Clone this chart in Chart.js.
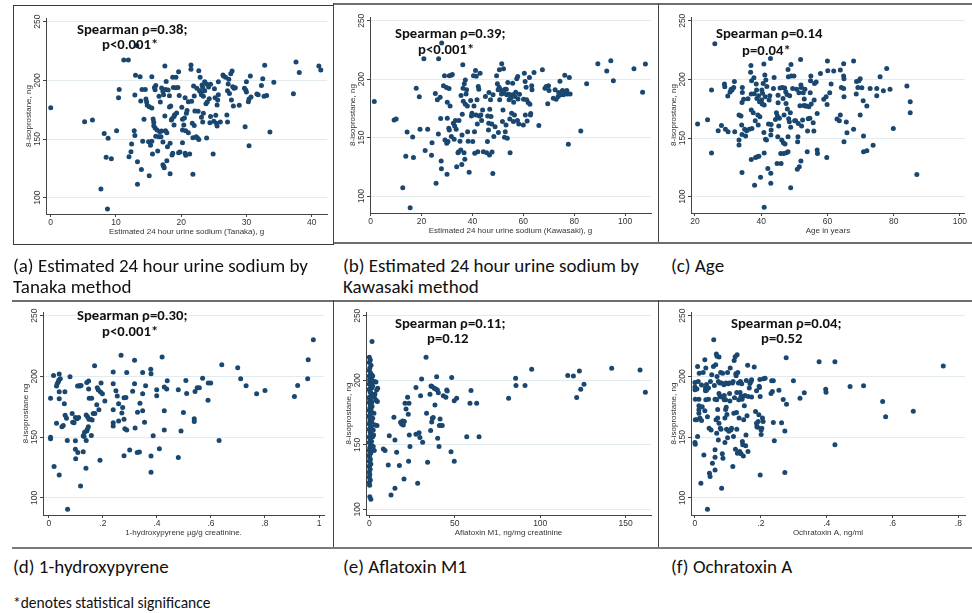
<!DOCTYPE html>
<html lang="en">
<head>
<meta charset="UTF-8">
<title>8-isoprostane scatter plots</title>
<script src="https://cdn.jsdelivr.net/npm/chart.js"></script>
<style>
  body { margin: 0; background: #fff; }
  #page { position: relative; width: 972px; height: 613px; overflow: hidden; background: #fff; }
  .line { position: absolute; background: #6e6e6e; }
  .box { position: absolute; border: 1px solid #3a3a3a; box-sizing: border-box; }
  .cap { position: absolute; font-family: Carlito, "Liberation Sans Narrow", "DejaVu Sans Condensed", sans-serif; font-size: 19px; line-height: 21px; color: #111; white-space: nowrap; }
  .foot { position: absolute; font-family: Carlito, "Liberation Sans Narrow", "DejaVu Sans Condensed", sans-serif; font-size: 15.5px; line-height: 18px; color: #111; white-space: nowrap; }
  .note { position: absolute; z-index: 2; font-family: Carlito, "Liberation Sans Narrow", "DejaVu Sans Condensed", sans-serif; font-weight: bold; font-size: 14.7px; line-height: 16px; color: #111; white-space: nowrap; }
  canvas { position: absolute; }
</style>
</head>
<body>
<div id="page">
  <!-- table lines -->
  <div class="line" style="left:333px;top:3px;width:639px;height:2px"></div>
  <div class="box" style="left:13px;top:5px;width:321px;height:240px"></div>
  <div class="line" style="left:333px;top:3px;width:1px;height:240px;background:#444"></div>
  <div class="line" style="left:658px;top:3px;width:1px;height:240px;background:#444"></div>
  <div class="line" style="left:334px;top:242px;width:638px;height:2px"></div>
  <div class="line" style="left:12px;top:300px;width:960px;height:2px"></div>
  <div class="line" style="left:333px;top:300px;width:1px;height:248px;background:#444"></div>
  <div class="line" style="left:658px;top:300px;width:1px;height:248px;background:#444"></div>
  <div class="line" style="left:12px;top:547px;width:960px;height:2px;background:#7a7a7a"></div>

  <!-- captions -->
  <div class="cap" style="left:13px;top:255px">(a) Estimated 24 hour urine sodium by<br>Tanaka method</div>
  <div class="cap" style="left:343px;top:255px">(b) Estimated 24 hour urine sodium by<br>Kawasaki method</div>
  <div class="cap" style="left:671px;top:255px">(c) Age</div>
  <div class="cap" style="left:13px;top:556px">(d) 1-hydroxypyrene</div>
  <div class="cap" style="left:343px;top:556px">(e) Aflatoxin M1</div>
  <div class="cap" style="left:671px;top:556px">(f) Ochratoxin A</div>
  <div class="foot" style="left:13px;top:594px">*denotes statistical significance</div>

  <!-- spearman notes -->
  <div class="note" style="left:77px;top:21px">Spearman ρ=0.38;</div>
  <div class="note" style="left:102px;top:36px">p&lt;0.001*</div>
  <div class="note" style="left:395px;top:25px">Spearman ρ=0.39;</div>
  <div class="note" style="left:418px;top:41px">p&lt;0.001*</div>
  <div class="note" style="left:716px;top:25px">Spearman ρ=0.14</div>
  <div class="note" style="left:742px;top:42px">p=0.04*</div>
  <div class="note" style="left:77px;top:307px">Spearman ρ=0.30;</div>
  <div class="note" style="left:102px;top:323px">p&lt;0.001*</div>
  <div class="note" style="left:395px;top:315px">Spearman ρ=0.11;</div>
  <div class="note" style="left:427px;top:330px">p=0.12</div>
  <div class="note" style="left:731px;top:315px">Spearman ρ=0.04;</div>
  <div class="note" style="left:761px;top:330px">p=0.52</div>
</div>

<script>
// y axis is the same for every panel
const yTicks = [100, 150, 200, 250];

// (a) Tanaka sodium, g  vs 8-isoprostane
const tanakaTicks = [0, 10, 20, 30, 40];
const tanakaPts = [
  [0,176.7],[5.2,164.8],[6.4,166.2],[7.7,107.4],[8.2,154.8],[8.5,134.4],[8.7,90.3],[8.8,150.6],[9.3,133.2],[10.1,157.1],
  [10.4,185.2],[10.5,192.3],[11.2,217.3],[11.9,217.3],[12.0,134.9],[12.3,139.2],[12.4,145.7],[12.8,157.1],[12.9,153.1],[12.9,187.5],
  [13.0,204.3],[13.2,229.8],[13.3,130.7],[13.3,111.4],[13.7,203.1],[13.8,182.4],[13.9,124.1],[14.0,192.3],[14.1,148.0],[14.3,166.8],
  [14.5,192.3],[14.6,184.1],[14.7,181.5],[14.8,178.7],[15.0,147.7],[15.1,177.6],[15.1,118.8],[15.3,144.6],[15.5,203.1],[15.5,176.4],
  [15.5,148.0],[15.6,137.2],[15.7,167.0],[15.8,164.2],[15.8,161.4],[15.9,194.0],[16.0,192.0],[16.0,159.4],[16.1,195.7],[16.1,152.3],
  [16.3,157.7],[16.4,139.8],[16.6,152.0],[16.6,186.4],[16.7,156.3],[16.8,181.5],[16.9,152.0],[17.0,193.5],[17.0,156.8],[17.2,190.6],
  [17.2,147.4],[17.2,128.1],[17.3,187.8],[17.3,126.7],[17.4,125.6],[17.5,212.2],[17.5,169.6],[17.6,157.1],[17.6,192.3],[17.7,199.1],
  [17.8,155.4],[17.8,131.5],[17.9,143.5],[18.0,191.8],[18.2,186.9],[18.2,177.3],[18.3,146.3],[18.3,120.5],[18.4,178.1],[18.5,166.2],
  [18.6,136.4],[18.6,167.3],[18.7,137.8],[18.7,202.6],[18.8,194.0],[18.9,161.9],[18.9,169.3],[19.0,170.7],[19.2,193.8],[19.2,202.6],
  [19.3,172.2],[19.5,194.0],[19.6,207.4],[19.6,138.4],[19.7,187.2],[19.8,138.9],[20.1,177.0],[20.2,166.8],[20.2,157.7],[20.2,146.9],
  [20.4,161.9],[20.5,167.9],[20.6,137.8],[20.6,185.2],[20.7,157.1],[20.7,136.1],[20.8,171.9],[20.9,174.4],[21.1,181.8],[21.1,155.4],
  [21.3,137.2],[21.5,213.1],[21.5,209.4],[21.6,182.1],[21.7,163.4],[21.8,119.9],[21.8,151.1],[21.9,195.2],[22.0,161.6],[22.0,186.6],
  [22.1,173.9],[22.3,152.0],[22.4,193.2],[22.5,150.9],[22.6,173.6],[22.7,149.7],[22.7,208.2],[22.8,191.2],[22.9,202.6],[23.0,189.8],
  [23.1,168.5],[23.1,187.8],[23.2,196.0],[23.3,194.0],[23.3,164.5],[23.4,171.9],[23.4,186.4],[23.6,198.9],[23.6,191.2],[23.8,180.1],
  [23.9,150.9],[23.9,196.9],[24.0,181.5],[24.2,194.3],[24.3,184.4],[24.4,163.9],[24.5,169.3],[24.5,196.6],[24.9,137.2],[25.0,165.1],
  [25.1,192.9],[25.2,185.2],[25.3,170.2],[25.4,163.4],[25.5,161.1],[25.5,179.0],[25.6,183.2],[25.7,198.9],[25.7,187.8],[26.0,164.5],
  [26.4,204.5],[26.5,203.7],[26.8,202.6],[27.0,170.5],[27.1,164.5],[27.1,191.2],[27.2,196.9],[27.3,200.9],[27.4,188.9],[27.6,205.7],
  [27.7,183.2],[27.8,208.0],[27.9,194.6],[28.0,178.1],[28.1,193.2],[28.3,193.8],[28.9,178.7],[29.7,193.2],[29.8,160.5],[29.9,191.8],
  [30.0,198.9],[30.0,190.1],[30.3,181.8],[30.4,144.3],[30.4,184.1],[30.6,203.7],[30.7,185.8],[31.6,188.4],[31.8,187.8],[32.3,195.7],
  [32.5,201.4],[32.7,186.4],[32.8,212.8],[33.1,187.2],[33.6,156.0],[34.2,198.3],[37.2,188.6],[37.6,215.6],[38.1,206.8],[41.1,212.2],
  [41.4,208.8]
];

// (b) Kawasaki sodium, g
const kawasakiTicks = [0, 20, 40, 60, 80, 100];
const kawasakiPts = [
  [1.4,180.9],[9.2,165.1],[10.0,166.0],[12.6,107.1],[13.8,134.0],[14.3,154.9],[15.5,90.0],[16.5,150.6],[16.8,132.9],[17.9,192.3],
  [19.1,184.9],[19.4,157.1],[20.9,217.4],[21.4,138.9],[22.4,157.1],[23.9,134.9],[24.1,145.7],[25.4,187.7],[25.7,110.9],[26.2,182.3],
  [26.6,153.1],[26.7,217.4],[27.3,184.6],[27.5,166.3],[27.7,130.0],[27.8,123.4],[27.9,230.9],[28.6,194.3],[29.0,202.9],[29.2,148.0],
  [29.8,192.9],[29.9,145.1],[30.0,118.6],[30.1,180.3],[30.1,166.6],[30.4,146.6],[30.7,158.0],[30.8,192.0],[30.9,202.9],[30.9,156.6],
  [31.2,177.1],[31.6,203.4],[31.7,150.9],[32.1,204.0],[32.5,162.3],[32.8,148.6],[33.0,160.0],[33.3,164.6],[33.6,157.1],[33.8,125.1],
  [34.3,137.1],[34.6,138.0],[34.7,164.6],[35.1,146.9],[35.4,139.4],[35.5,186.0],[35.8,127.1],[35.9,152.3],[36.0,170.0],[36.2,212.3],
  [36.3,192.3],[36.4,181.1],[36.7,137.1],[36.8,196.0],[37.0,131.4],[37.2,178.6],[37.2,199.4],[37.5,187.4],[37.7,190.9],[38.0,177.1],
  [38.1,155.1],[38.3,146.9],[38.7,120.3],[39.3,181.7],[39.6,168.6],[39.8,170.9],[40.1,146.6],[40.4,202.9],[40.6,177.1],[40.8,155.1],
  [40.9,136.6],[41.2,207.4],[41.4,169.4],[41.5,202.6],[41.8,182.3],[41.9,161.7],[42.1,138.0],[42.3,193.7],[42.5,191.4],[42.7,168.6],
  [43.0,205.1],[43.3,169.4],[43.6,164.6],[44.0,173.7],[44.3,138.0],[45.1,185.1],[45.6,137.1],[45.9,146.6],[46.0,168.6],[46.3,156.6],
  [46.4,162.3],[46.5,188.6],[46.7,135.1],[46.8,174.3],[47.1,182.3],[47.3,168.0],[47.6,161.7],[47.7,137.7],[48.0,119.4],[48.1,186.6],
  [48.4,150.9],[48.9,159.4],[49.5,202.9],[49.8,196.0],[50.1,190.9],[50.2,154.3],[50.5,193.1],[50.6,208.0],[50.7,182.3],[51.1,190.9],
  [51.4,187.4],[51.5,213.1],[51.8,163.7],[52.0,173.7],[52.2,208.9],[52.3,188.0],[52.6,150.3],[52.8,191.4],[52.9,155.1],[53.2,160.9],
  [53.3,191.4],[53.5,186.6],[53.7,149.4],[53.9,197.1],[54.3,187.1],[54.4,182.3],[54.7,166.0],[54.8,137.1],[55.0,183.7],[55.4,170.9],
  [55.7,186.6],[55.8,196.6],[56.1,163.7],[56.2,180.3],[56.5,169.4],[56.7,185.1],[57.0,188.9],[57.4,200.3],[57.7,164.6],[57.8,202.3],
  [57.9,183.1],[58.2,161.7],[58.5,187.1],[60.0,160.9],[60.1,182.9],[60.4,205.1],[60.7,198.0],[60.8,169.4],[61.1,193.1],[61.3,182.3],
  [61.5,164.3],[61.9,180.0],[62.4,201.4],[62.6,178.6],[62.8,169.4],[62.9,170.6],[63.3,194.3],[63.4,190.9],[64.2,205.7],[66.1,160.3],
  [67.5,208.0],[68.5,192.3],[69.0,193.7],[69.9,194.3],[69.6,178.9],[70.1,190.3],[71.8,183.7],[72.5,190.9],[72.9,182.9],[73.7,185.1],
  [73.9,188.6],[74.4,198.3],[74.7,186.6],[75.4,190.3],[75.8,186.6],[76.3,203.4],[76.6,189.4],[77.1,190.3],[77.3,187.4],[77.7,144.3],
  [78.1,201.4],[78.4,187.4],[82.6,155.7],[84.9,196.0],[89.3,213.1],[92.8,207.1],[94.4,215.7],[95.4,198.6],[103.5,208.9],[106.9,188.9],
  [108.0,212.9]
];

// (c) age in years
const ageTicks = [20, 40, 60, 80, 100];
const agePts = [
  [20.8,161.9],[23.8,165.6],[25.0,137.2],[25.0,190.9],[26.0,230.4],[27.0,156.3],[28.0,160.8],[28.9,196.0],[29.0,193.8],[29.2,157.4],
  [29.9,185.8],[30.0,155.4],[30.6,189.2],[30.9,191.5],[31.2,190.9],[31.7,193.2],[31.9,198.3],[32.0,155.4],[33.3,169.6],[33.3,144.0],
  [33.3,148.3],[33.9,168.8],[34.1,161.1],[34.2,180.4],[34.2,153.1],[34.2,120.7],[34.3,193.2],[34.3,188.9],[34.7,183.0],[35.0,157.4],
  [35.3,151.7],[35.6,156.3],[36.0,183.5],[36.4,157.4],[36.8,206.0],[36.9,211.9],[37.0,173.9],[37.0,187.5],[37.1,198.9],[37.0,131.8],
  [37.2,158.2],[37.6,171.6],[37.8,201.4],[37.9,187.8],[38.0,109.7],[38.2,164.8],[38.3,133.5],[38.5,196.0],[38.6,190.9],[38.7,183.8],
  [38.8,134.1],[39.0,169.6],[39.1,161.1],[39.2,186.1],[39.3,134.4],[39.5,180.9],[39.6,168.2],[39.8,116.5],[40.1,182.4],[40.2,190.9],
  [40.3,179.0],[40.4,188.1],[40.6,196.6],[40.8,213.1],[40.8,154.8],[40.9,178.1],[40.9,137.2],[40.9,90.9],[41.1,203.7],[41.2,185.2],
  [41.3,148.9],[41.4,199.4],[41.6,148.3],[41.7,194.0],[42.0,124.1],[42.2,161.9],[42.4,182.4],[42.6,186.1],[42.8,217.9],[42.9,119.9],
  [42.9,111.4],[42.9,152.6],[43.0,161.6],[43.0,156.8],[43.7,192.3],[43.9,201.7],[44.3,165.9],[44.6,171.6],[44.8,128.4],[44.9,168.8],
  [45.0,151.1],[45.1,186.4],[45.1,180.1],[45.3,160.2],[45.5,166.8],[45.7,192.6],[45.9,136.9],[46.0,128.4],[46.2,148.3],[46.4,193.2],
  [46.6,183.8],[46.7,146.0],[46.8,136.9],[46.9,169.6],[47.1,192.6],[47.2,144.9],[47.4,189.5],[47.5,179.5],[47.6,137.5],[47.8,187.2],
  [47.9,174.7],[48.1,151.1],[48.1,138.4],[48.1,208.5],[48.2,202.3],[48.3,166.5],[48.5,163.9],[48.6,186.1],[48.8,171.6],[48.9,159.1],
  [48.9,107.7],[49.0,212.8],[49.1,202.8],[49.5,192.3],[49.9,202.8],[50.1,164.8],[50.4,164.8],[50.7,191.5],[50.9,123.3],[51.0,146.9],
  [51.1,151.1],[51.2,162.5],[51.4,188.6],[51.5,125.6],[51.7,177.6],[51.9,217.0],[52.0,195.2],[52.0,130.4],[52.1,193.2],[52.2,160.2],
  [52.5,165.3],[52.7,188.6],[52.9,177.8],[53.0,183.2],[53.2,191.5],[53.3,177.3],[53.7,177.3],[53.9,138.4],[54.0,156.0],[54.2,166.5],
  [54.4,176.7],[54.7,166.8],[54.8,188.6],[54.9,198.9],[55.0,202.8],[55.1,179.0],[55.7,163.1],[55.9,156.0],[56.0,182.4],[56.1,196.6],
  [56.6,197.7],[56.9,171.0],[56.9,139.8],[57.0,136.9],[57.9,205.1],[58.9,183.0],[59.6,185.2],[59.8,133.5],[59.9,178.7],[60.0,215.6],
  [60.1,207.4],[60.7,188.6],[61.1,196.0],[61.9,207.1],[62.9,166.2],[63.6,164.8],[63.9,169.6],[63.9,208.0],[64.2,193.2],[64.9,213.4],
  [64.9,202.8],[65.0,200.6],[64.9,192.3],[65.0,185.2],[65.0,146.9],[65.7,163.6],[65.9,154.5],[67.9,215.6],[67.9,157.4],[68.7,187.5],
  [68.8,198.3],[69.2,193.2],[69.5,198.9],[69.9,169.6],[69.9,200.6],[70.4,192.9],[70.8,181.8],[70.9,151.7],[70.9,138.4],[71.9,139.2],
  [71.9,177.3],[72.9,192.3],[73.8,143.8],[74.9,186.1],[74.9,192.3],[75.9,202.3],[76.9,190.3],[77.9,209.4],[78.9,191.5],[79.9,158.2],
  [84.0,194.3],[85.0,181.0],[85.0,171.6],[87.0,119.0]
];

// (d) 1-hydroxypyrene, ug/g creatinine
const pyreneTicks = [0, 0.2, 0.4, 0.6, 0.8, 1];
const pyreneLabels = ['0', '.2', '.4', '.6', '.8', '1'];
const pyrenePts = [
  [0.006,182.1],[0.006,150.0],[0.006,148.8],[0.017,200.8],[0.019,125.8],[0.028,161.5],[0.028,192.1],[0.031,194.2],[0.035,195.6],[0.037,197.0],
  [0.038,201.9],[0.038,187.4],[0.038,181.6],[0.038,118.9],[0.042,198.1],[0.048,158.6],[0.053,159.7],[0.057,177.5],[0.059,187.4],[0.060,168.1],
  [0.065,165.5],[0.068,147.3],[0.069,90.7],[0.078,199.7],[0.086,169.5],[0.088,162.2],[0.093,161.9],[0.098,166.3],[0.098,147.0],[0.098,140.0],
  [0.099,132.3],[0.104,165.2],[0.106,192.1],[0.107,137.4],[0.110,166.3],[0.112,192.3],[0.115,192.1],[0.117,109.9],[0.119,192.6],[0.127,138.1],
  [0.127,151.1],[0.130,150.5],[0.132,154.0],[0.137,124.4],[0.138,147.3],[0.138,168.2],[0.140,195.1],[0.140,155.2],[0.142,156.6],[0.143,166.8],
  [0.146,158.6],[0.147,196.2],[0.147,189.6],[0.148,164.8],[0.149,182.1],[0.154,164.8],[0.157,151.4],[0.158,182.1],[0.160,164.1],[0.164,169.6],
  [0.169,208.8],[0.170,169.6],[0.177,176.6],[0.179,190.7],[0.183,188.8],[0.185,172.5],[0.189,131.0],[0.191,187.1],[0.193,194.5],[0.198,185.7],
  [0.207,179.7],[0.238,203.6],[0.238,194.0],[0.238,172.5],[0.238,161.9],[0.238,159.2],[0.248,188.2],[0.253,183.8],[0.258,177.5],[0.258,163.3],
  [0.267,217.5],[0.270,169.9],[0.273,174.5],[0.278,182.5],[0.278,164.8],[0.278,134.8],[0.281,157.0],[0.285,182.7],[0.288,203.3],[0.288,155.9],
  [0.299,139.5],[0.310,187.9],[0.317,213.4],[0.317,194.0],[0.319,157.5],[0.327,137.4],[0.328,170.6],[0.335,137.8],[0.337,178.0],[0.347,203.3],
  [0.347,185.7],[0.347,171.7],[0.354,162.2],[0.358,192.3],[0.377,206.0],[0.378,202.2],[0.378,134.5],[0.378,121.1],[0.386,151.1],[0.399,189.0],
  [0.399,184.1],[0.409,140.5],[0.419,215.9],[0.427,191.2],[0.427,171.7],[0.427,155.9],[0.436,189.6],[0.438,196.4],[0.479,189.0],[0.479,133.4],
  [0.489,155.1],[0.498,170.3],[0.507,196.7],[0.510,186.0],[0.538,165.1],[0.538,162.9],[0.541,187.6],[0.549,190.7],[0.557,190.7],[0.569,198.6],
  [0.589,180.5],[0.590,194.5],[0.599,194.5],[0.630,147.3],[0.640,209.6],[0.699,207.1],[0.710,198.1],[0.730,192.3],[0.769,185.7],[0.800,188.5],
  [0.909,183.5],[0.921,192.6],[0.958,198.1],[0.960,213.7],[0.979,230.2]
];

// (e) aflatoxin M1, ng/mg creatinine (many values at the detection floor)
const aflaTicks = [0, 50, 100, 150];
const aflaPts = [
  [0,217.8],[0.6,215.8],[0,213.7],[1.0,211.6],[0.3,209.6],[0,207.5],[0.8,205.4],[0,203.4],[1.2,201.3],[0.4,199.2],
  [0,197.2],[0.9,195.1],[0,193.0],[0.5,191.0],[1.3,188.9],[0,186.8],[0.7,184.8],[0,182.7],[1.1,180.6],[0.3,178.6],
  [0,176.5],[0.8,174.4],[0,172.4],[1.2,170.3],[0.4,168.2],[0,166.1],[0.9,164.1],[0,162.0],[0.5,159.9],[1.4,157.9],
  [0,155.8],[0.7,153.7],[0,151.7],[1.1,149.6],[0.3,147.5],[0,145.5],[0.8,143.4],[0,141.3],[0.4,139.3],[0,137.2],
  [0.9,135.1],[0,133.1],[0.5,131.0],[0,128.9],[0.3,126.9],[0,124.8],[0.6,122.7],[0,120.7],[0.2,118.6],[0.3,109.8],
  [0.9,107.8],[1.0,190.0],[0.2,185.5],[1.5,183.0],[0.6,181.0],[1.0,177.0],[0.2,171.0],[1.5,167.5],[0.6,163.0],[1.0,158.5],
  [0.2,156.5],[1.3,152.5],[0.5,148.5],[1.0,145.0],[0.2,142.5],[0.6,197.5],[1.4,194.0],[0.2,200.5],[1.0,187.5],[0.4,173.0],
  [0.7,160.5],[0.2,134.0],[0.6,138.5],[1.2,162.5],[0.4,192.0],[1.5,198.0],
  [2.0,203.4],[2.9,199.0],[3.9,198.7],[4.9,193.8],[4.3,192.5],[4.7,183.5],[4.5,164.9],[2.9,186.8],[2.0,195.6],[3.3,189.4],
  [2.3,161.5],[2.0,156.3],[3.3,165.4],[2.3,148.6],[2.9,145.5],[1.6,179.6],[2.0,170.5],[1.6,230.0],[3.9,184.8],[2.7,174.4],
  [1.4,204.1],[2.5,157.6],
  [8.2,146.8],[9.2,145.5],[11.1,134.4],[11.7,157.1],[12.7,111.1],[14.4,171.3],[15.0,153.7],[15.0,116.3],[16.0,144.2],[17.6,133.9],
  [18.3,167.4],[18.9,166.1],[19.5,168.5],[19.9,165.4],[20.3,123.5],[20.5,168.0],[20.9,182.2],[21.5,177.8],[22.4,186.8],[22.8,173.6],
  [23.0,137.2],[23.2,182.2],[23.4,157.6],[23.8,148.6],[27.3,194.3],[27.3,158.1],[28.3,120.2],[29.1,159.4],[29.6,155.6],[30.0,188.1],
  [30.6,201.0],[31.2,151.9],[33.2,217.8],[33.5,174.4],[34.1,136.4],[35.5,189.1],[35.9,161.0],[36.1,195.6],[36.5,167.7],[36.7,195.1],
  [36.9,170.5],[37.4,171.1],[38.0,193.8],[38.4,180.9],[38.8,193.3],[39.4,202.8],[39.8,192.5],[40.0,155.0],[40.4,190.4],[40.8,148.6],
  [41.0,164.9],[41.4,170.0],[41.9,164.9],[42.7,164.9],[43.3,188.1],[44.8,186.8],[45.3,192.5],[45.6,191.7],[47.8,144.7],[48.2,202.1],
  [49.7,137.2],[49.7,184.2],[51.1,186.0],[57.0,156.3],[58.9,182.2],[59.5,192.0],[62.8,182.2],[64.2,156.3],[81.5,186.0],[85.6,201.6],
  [85.8,195.9],[91.1,195.9],[95.0,208.5],[116.1,203.6],[119.4,203.4],[121.3,186.6],[122.9,207.2],[123.7,193.0],[125.6,196.9],[141.8,209.3],
  [158.4,208.0],[161.5,190.7]
];

// (f) ochratoxin A, ng/ml
const ochraTicks = [0, 0.2, 0.4, 0.6, 0.8];
const ochraLabels = ['0', '.2', '.4', '.6', '.8'];
const ochraPts = [
  [0,195.1],[0,191.2],[0,189.0],[0.001,181.3],[0.001,164.3],[0,145.6],[0.001,144.2],[0.006,189.6],[0.005,164.3],[0.008,150.5],
  [0.008,208.2],[0.010,195.9],[0.012,181.3],[0.012,175.8],[0.012,169.8],[0.012,172.5],[0.015,165.9],[0.013,202.7],[0.018,112.1],[0.020,192.9],
  [0.020,163.7],[0.022,175.0],[0.025,203.3],[0.027,135.4],[0.030,213.7],[0.030,171.7],[0.032,188.2],[0.032,190.4],[0.033,206.9],[0.033,180.8],
  [0.035,188.7],[0.035,193.4],[0.038,166.8],[0.038,90.7],[0.041,190.4],[0.041,181.3],[0.043,157.4],[0.044,120.3],[0.046,117.6],[0.047,195.9],
  [0.049,156.0],[0.051,201.4],[0.053,128.6],[0.056,208.2],[0.057,230.2],[0.059,192.6],[0.061,123.1],[0.061,181.3],[0.061,139.6],[0.061,133.5],
  [0.063,209.6],[0.064,164.3],[0.065,218.4],[0.066,153.3],[0.066,180.8],[0.067,216.5],[0.067,200.0],[0.069,165.9],[0.069,172.8],[0.071,147.8],
  [0.071,195.9],[0.073,186.0],[0.073,161.5],[0.073,215.9],[0.075,194.5],[0.076,183.5],[0.077,157.4],[0.078,203.3],[0.079,156.6],[0.081,108.0],
  [0.081,194.5],[0.081,183.0],[0.083,136.3],[0.084,202.7],[0.085,132.7],[0.086,183.5],[0.088,193.1],[0.089,184.3],[0.089,180.8],[0.091,145.6],
  [0.091,165.9],[0.093,172.8],[0.093,180.8],[0.094,194.5],[0.095,174.7],[0.096,156.6],[0.097,168.7],[0.099,149.5],[0.099,203.3],[0.101,193.9],
  [0.103,154.9],[0.104,194.5],[0.105,186.0],[0.106,179.7],[0.107,206.9],[0.109,156.0],[0.111,157.4],[0.114,194.5],[0.115,125.8],[0.116,195.9],
  [0.117,150.5],[0.118,169.8],[0.119,213.2],[0.120,182.4],[0.122,216.2],[0.123,140.1],[0.124,202.2],[0.125,200.5],[0.126,170.3],[0.127,186.8],
  [0.127,156.6],[0.128,217.9],[0.129,136.8],[0.130,203.3],[0.132,194.5],[0.133,180.8],[0.134,165.9],[0.136,138.2],[0.137,186.8],[0.138,195.9],
  [0.140,183.5],[0.140,136.3],[0.142,193.9],[0.143,181.3],[0.144,146.4],[0.145,143.7],[0.146,183.5],[0.147,134.6],[0.148,164.3],[0.150,175.8],
  [0.152,184.3],[0.154,142.9],[0.155,151.9],[0.156,196.7],[0.158,167.6],[0.160,209.1],[0.161,138.2],[0.162,183.5],[0.165,190.4],[0.167,194.2],
  [0.170,195.9],[0.172,197.3],[0.172,183.0],[0.180,207.7],[0.184,171.2],[0.187,188.2],[0.187,161.5],[0.188,158.8],[0.190,158.2],[0.192,162.9],
  [0.194,168.4],[0.195,192.0],[0.196,190.9],[0.197,197.5],[0.198,119.0],[0.198,183.5],[0.201,152.2],[0.201,156.0],[0.203,157.4],[0.205,165.9],
  [0.207,162.9],[0.208,198.1],[0.213,198.4],[0.231,186.0],[0.233,196.4],[0.235,187.5],[0.238,162.1],[0.238,196.4],[0.241,147.0],[0.255,188.7],
  [0.263,161.8],[0.268,181.0],[0.273,155.2],[0.273,121.0],[0.277,215.3],[0.278,177.2],[0.299,196.4],[0.319,182.0],[0.332,186.5],[0.377,212.0],
  [0.397,189.5],[0.398,187.0],[0.425,212.0],[0.425,143.7],[0.471,191.8],[0.512,192.3],[0.570,179.4],[0.579,166.8],[0.663,171.4],[0.754,208.5]
];

const DOT = '#1a476f';
const AX_FONT = '"Liberation Sans", Arial, sans-serif';
const Y_W = 24;   // room left of plot for y labels + title
const X_H = 24;   // room under plot for x labels + title
const PAD_T = 8;
const PAD_R = 2;

// panel layout: plot box in page px [left, top, right, bottom] + axis ranges
const panels = [
  { pts: tanakaPts, box: [46, 18, 327, 214], x: [-0.72, 42.35], y: [86.1, 253.15], xt: tanakaTicks, xl: tanakaTicks.map(String),
    xTitle: 'Estimated 24 hour urine sodium (Tanaka), g', yTitle: '8-isoprostane, ng' },
  { pts: kawasakiPts, box: [370, 17, 651, 213], x: [-0.28, 110.2], y: [85.5, 253.2], xt: kawasakiTicks, xl: kawasakiTicks.map(String),
    xTitle: 'Estimated 24 hour urine sodium (Kawasaki), g', yTitle: '8-isoprostane, ng' },
  { pts: agePts, box: [691, 17, 966, 213], x: [18.8, 101.5], y: [86.1, 253.2], xt: ageTicks, xl: ageTicks.map(String),
    xTitle: 'Age in years', yTitle: '8-isoprostane, ng' },
  { pts: pyrenePts, box: [43, 312, 324, 515], x: [-0.022, 1.0185], y: [86.0, 253.0], xt: pyreneTicks, xl: pyreneLabels,
    xTitle: '1-hydroxypyrene µg/g creatinine.', yTitle: '8-isoprostane ng' },
  { pts: aflaPts, box: [366, 312, 651, 515], x: [-1.93, 164.8], y: [95.6, 252.9], xt: aflaTicks, xl: aflaTicks.map(String),
    xTitle: 'Aflatoxin M1, ng/mg creatinine', yTitle: '8-isoprostane, ng' },
  { pts: ochraPts, box: [691, 312, 965, 515], x: [-0.012, 0.82], y: [86.0, 253.0], xt: ochraTicks, xl: ochraLabels,
    xTitle: 'Ochratoxin A, ng/ml', yTitle: '8-isoprostane, ng' }
];

// Stata style: y labels turned on their side
const sideYLabels = {
  id: 'sideYLabels',
  afterDraw(chart) {
    const s = chart.scales.y;
    const ctx = chart.ctx;
    ctx.save();
    ctx.font = '8.5px ' + AX_FONT;
    ctx.fillStyle = '#333';
    ctx.textAlign = 'center';
    ctx.textBaseline = 'middle';
    yTicks.forEach(v => {
      ctx.save();
      ctx.translate(s.right - 8, s.getPixelForValue(v));
      ctx.rotate(-Math.PI / 2);
      ctx.fillText(String(v), 0, 0);
      ctx.restore();
    });
    ctx.restore();
  }
};

const page = document.getElementById('page');

panels.forEach(p => {
  const [L, T, R, B] = p.box;
  const cv = document.createElement('canvas');
  cv.width = R - L + Y_W + PAD_R;
  cv.height = B - T + PAD_T + X_H;
  cv.style.left = (L - Y_W) + 'px';
  cv.style.top = (T - PAD_T) + 'px';
  page.insertBefore(cv, page.firstChild);

  new Chart(cv, {
    type: 'scatter',
    data: {
      datasets: [{
        data: p.pts.map(([x, y]) => ({ x, y })),
        pointBackgroundColor: DOT,
        backgroundColor: DOT,
        pointBorderWidth: 0,
        pointRadius: 2.5,
        pointHoverRadius: 2.5
      }]
    },
    options: {
      responsive: false,
      animation: false,
      events: [],
      layout: { autoPadding: false, padding: { left: 0, top: PAD_T, right: PAD_R, bottom: 0 } },
      plugins: { legend: { display: false }, tooltip: { enabled: false } },
      scales: {
        x: {
          type: 'linear', min: p.x[0], max: p.x[1],
          afterBuildTicks: s => { s.ticks = p.xt.map(v => ({ value: v })); },
          afterFit: s => { s.height = X_H; },
          ticks: { font: { family: AX_FONT, size: 8.5 }, color: '#333', padding: 1, maxRotation: 0, autoSkip: false,
                   callback: (v, i) => p.xl[i] },
          grid: { display: true, drawOnChartArea: false, drawTicks: true, tickLength: 3, tickColor: '#444' },
          border: { display: true, color: '#444', width: 1 },
          title: { display: true, text: p.xTitle, color: '#333', font: { family: AX_FONT, size: 8, lineHeight: 1 },
                   padding: { top: 0, bottom: 2 } }
        },
        y: {
          type: 'linear', min: p.y[0], max: p.y[1],
          afterBuildTicks: s => { s.ticks = yTicks.map(v => ({ value: v })); },
          afterFit: s => { s.width = Y_W; },
          ticks: { display: false },
          grid: { color: '#e2ebee', lineWidth: 1, drawTicks: true, tickLength: 3, tickColor: '#444' },
          border: { display: true, color: '#444', width: 1 },
          title: { display: true, text: p.yTitle, color: '#333', font: { family: AX_FONT, size: 8, lineHeight: 1 },
                   padding: { top: 2.5, bottom: 0 } }
        }
      }
    },
    plugins: [sideYLabels]
  });
});
</script>
</body>
</html>
